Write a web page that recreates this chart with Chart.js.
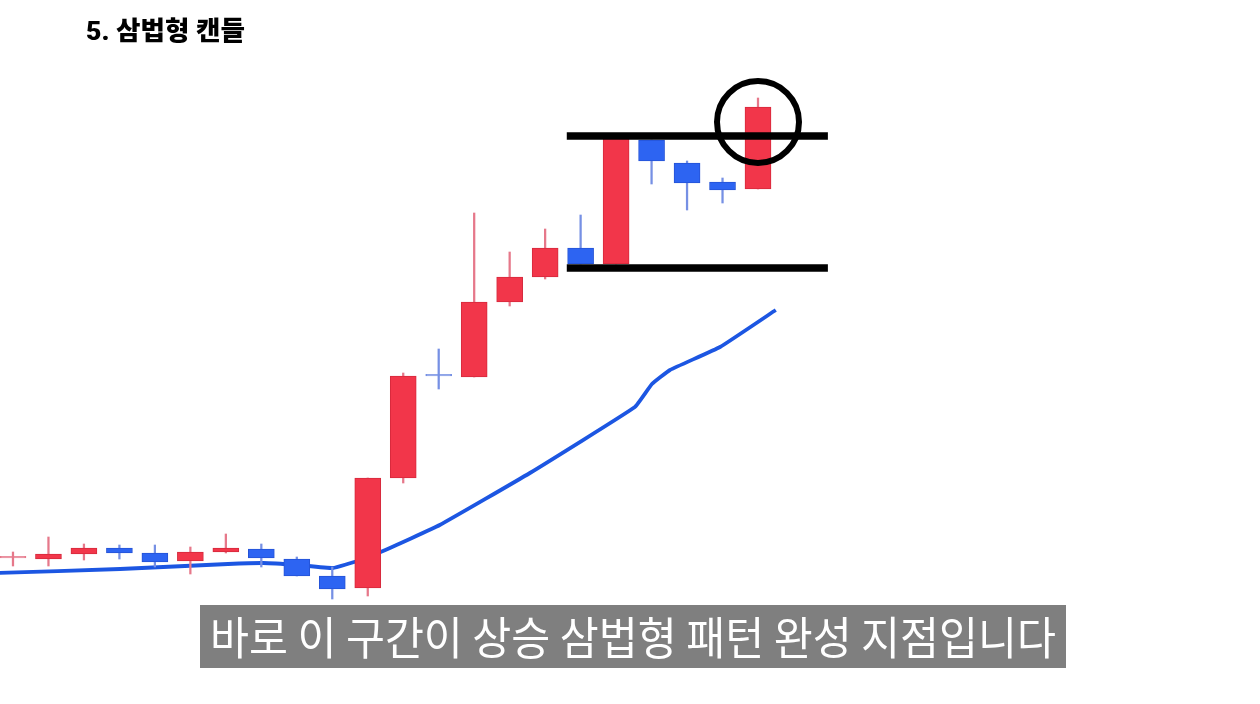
<!DOCTYPE html>
<html>
<head>
<meta charset="utf-8">
<script src="https://cdn.jsdelivr.net/npm/chart.js@4/dist/chart.umd.min.js"></script>
<style>
  html, body { margin: 0; padding: 0; background: #ffffff; }
  #wrap { position: relative; width: 1260px; height: 704px; overflow: hidden; background: #ffffff; }
  #c { position: absolute; left: 0; top: 0; }
  #title {
    position: absolute; left: 86px; top: 14px; white-space: nowrap; width: max-content;
    font-family: Roboto, "Noto Sans CJK KR", sans-serif; font-weight: 900; font-size: 26px;
    color: #000; transform-origin: left top; line-height: 34px;
  }
  #capbox {
    position: absolute; left: 200px; top: 605px; width: 866px; height: 63px; background: #7f7f7f;
  }
  #caption {
    position: absolute; left: 210px; top: 604px; white-space: nowrap; width: max-content;
    font-family: "Noto Sans CJK KR", sans-serif; font-weight: 400; font-size: 45px;
    color: #ffffff; transform-origin: left top; line-height: 64px;
  }
</style>
</head>
<body>
<div id="wrap">
  <canvas id="c" width="1260" height="704"></canvas>
  <div id="title">5. 삼법형 캔들</div>
  <div id="capbox"></div>
  <div id="caption">바로 이 구간이 상승 삼법형 패턴 완성 지점입니다</div>
</div>
<script>
// ---- data ----
const candleIndex = [0,1,2,3,4,5,6,7,8,9,10,11,12,13,14,15,16,17,18,19,20,21];
const opens  = [146,145,150,156,151,143,152,155,145,128,116,226,328,327,402,427,456,440,564,541,522,515];
const highs  = [152,167,160,159,159,157,170,160,147,137,226,331,355,491,452,475,489,566,564,543,526,606];
const lows   = [138,138,144,145,137,130,151,137,128,105,108,221,315,327,398,425,440,440,520,494,501,515];
const closes = [146,150,156,151,142,152,156,146,128,115,226,328,328,402,427,456,440,566,543,521,514,597];
// doji direction (open == close): 1 = red-ish, -1 = blue-ish
const dojiDir = {0: 1, 12: -1};

// moving average line
const maX = [-0.5, 3.02, 6.06, 7.05, 8.03, 9.02, 9.70, 10.43, 12.03, 14.57, 17.53, 18.01, 18.52, 19.93, 21.5];
const maY = [131, 135, 140, 141, 139, 136, 143, 153, 179, 231, 297, 320, 334, 357, 394];

// pattern range lines and highlight
const rangeTop = 568;
const rangeBottom = 436;
const rangeFrom = 15.61;
const rangeTo = 22.97;
const markX = 21;
const markY = 582;

// ---- styles ----
const RED = '#f2364a', RED_BORDER = '#d62a3d', RED_WICK = '#e6788a';
const BLUE = '#2d64f2', BLUE_BORDER = '#2553d6', BLUE_WICK = '#7690e4';

const isUp = candleIndex.map(i => closes[i] > opens[i] || (closes[i] === opens[i] && dojiDir[i] === 1));
const isDoji = candleIndex.map(i => closes[i] === opens[i]);

const bodyData = candleIndex.map(i => ({ x: i, y: [opens[i], closes[i]] }));
const wickData = candleIndex.map(i => ({ x: i, y: [lows[i], highs[i]] }));
const maData = maX.map((x, k) => ({ x: x, y: maY[k] }));

const bodyFill = candleIndex.map(i => isDoji[i] ? (isUp[i] ? RED_WICK : BLUE_WICK) : (isUp[i] ? RED : BLUE));
const bodyBorder = candleIndex.map(i => isDoji[i] ? (isUp[i] ? RED_WICK : BLUE_WICK) : (isUp[i] ? RED_BORDER : BLUE_BORDER));
const wickColor = candleIndex.map(i => isUp[i] ? RED_WICK : BLUE_WICK);

new Chart(document.getElementById('c'), {
  data: {
    datasets: [
      {
        type: 'line', data: maData, borderColor: '#1c56e2', borderWidth: 3.8,
        pointRadius: 0, tension: 0.1, order: 10, fill: false
      },
      {
        type: 'bar', data: wickData, backgroundColor: wickColor, borderWidth: 0,
        barThickness: 1.6, grouped: false, order: 6
      },
      {
        type: 'bar', data: bodyData, backgroundColor: bodyFill, borderColor: bodyBorder,
        borderWidth: 1, borderSkipped: false, barThickness: 26, minBarLength: 1.6,
        grouped: false, order: 5
      },
      {
        type: 'line', data: [{ x: rangeFrom, y: rangeTop }, { x: rangeTo, y: rangeTop }],
        borderColor: '#000000', borderWidth: 7.5, pointRadius: 0, borderCapStyle: 'butt', order: 2
      },
      {
        type: 'line', data: [{ x: rangeFrom, y: rangeBottom }, { x: rangeTo, y: rangeBottom }],
        borderColor: '#000000', borderWidth: 7.5, pointRadius: 0, borderCapStyle: 'butt', order: 2
      },
      {
        type: 'scatter', data: [{ x: markX, y: markY }],
        pointRadius: 41, pointBorderWidth: 6, pointBorderColor: '#000000',
        pointBackgroundColor: 'rgba(0,0,0,0)', order: 1, clip: false
      }
    ]
  },
  options: {
    responsive: false,
    animation: false,
    events: [],
    layout: { padding: 0, autoPadding: false },
    plugins: { legend: { display: false }, tooltip: { enabled: false }, title: { display: false } },
    scales: {
      x: { type: 'linear', min: -0.366, max: 35.15, display: false, offset: false },
      y: { type: 'linear', min: 0, max: 704, display: false }
    }
  }
});

function fitWidth(id, target) {
  const el = document.getElementById(id);
  el.style.transform = 'none';
  const w = el.getBoundingClientRect().width;
  if (w > 0) el.style.transform = 'scaleX(' + (target / w) + ')';
}
function fitAll() { fitWidth('title', 159); fitWidth('caption', 846); }
fitAll();
if (document.fonts && document.fonts.ready) document.fonts.ready.then(fitAll);
</script>
</body>
</html>
